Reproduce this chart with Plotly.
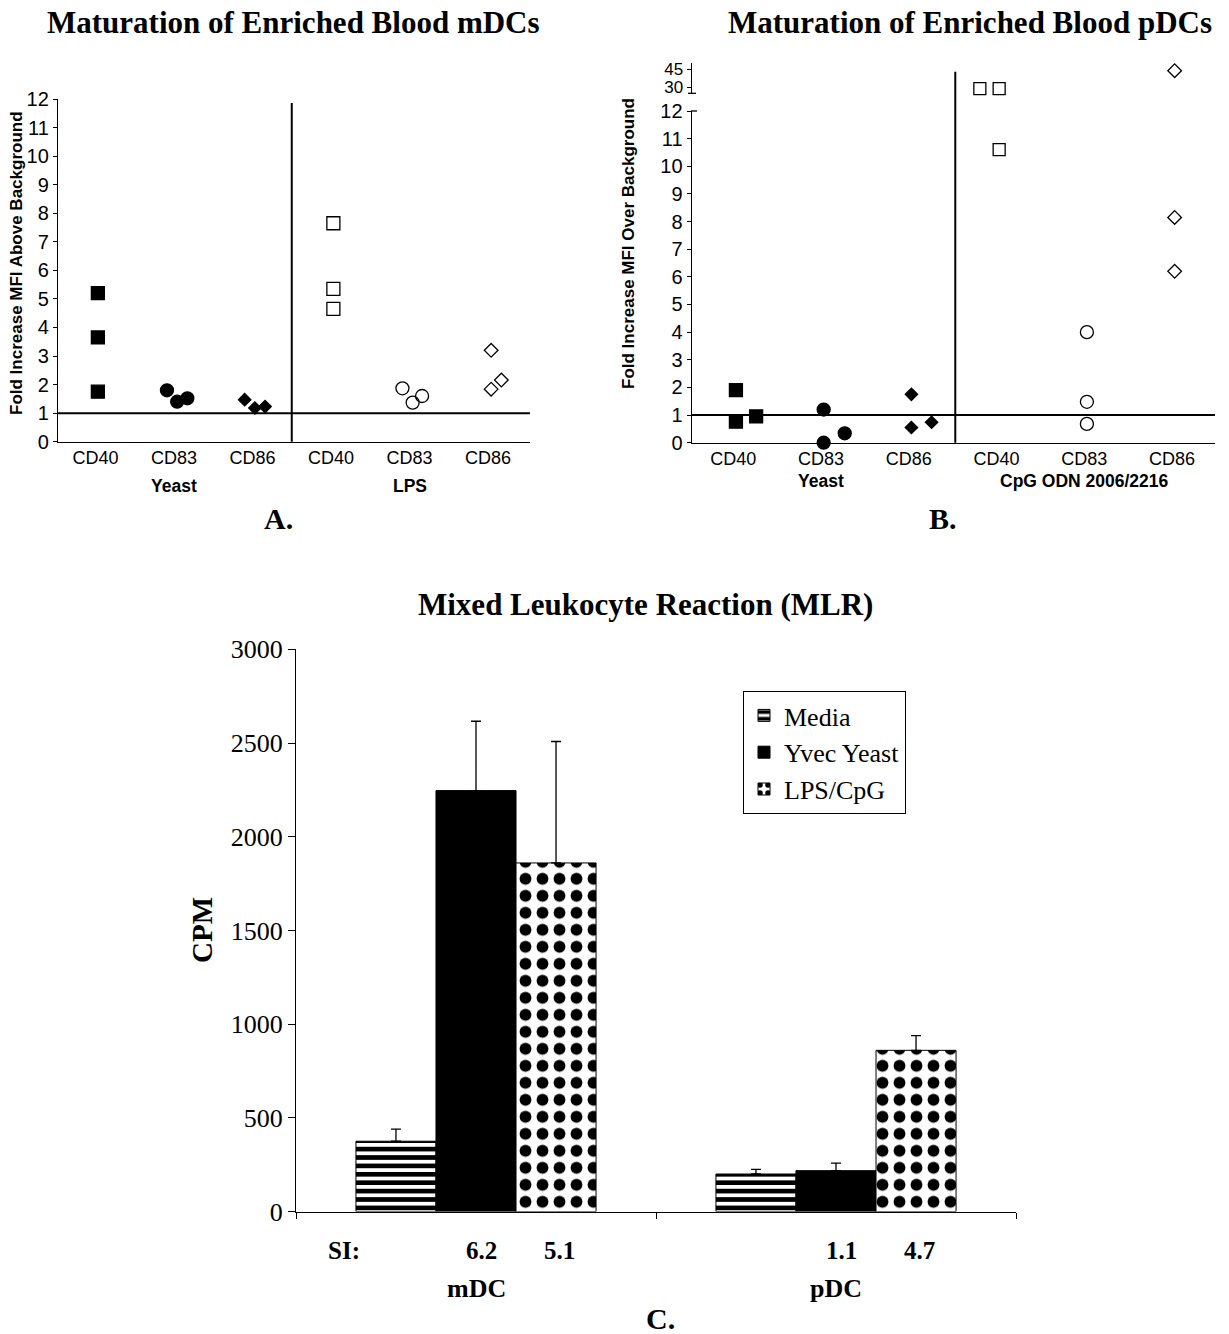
import plotly.graph_objects as go

W, H = 1229, 1334
SERIF = "Liberation Serif, Times New Roman, serif"
SANS = "Liberation Sans, Arial, sans-serif"

# ---------------- data ----------------
cat_labels = ["CD40", "CD83", "CD86", "CD40", "CD83", "CD86"]

# Panel A: mDCs (fold increase MFI above background)
a_yeast_cd40 = [5.2, 3.65, 1.75]
a_yeast_cd83 = [1.8, 1.4, 1.52]
a_yeast_cd86 = [1.47, 1.18, 1.23]
a_lps_cd40 = [7.65, 5.35, 4.65]
a_lps_cd83 = [1.87, 1.37, 1.6]
a_lps_cd86 = [3.2, 1.84, 2.16]

# Panel B: pDCs (fold increase MFI over background)
b_yeast_cd40 = [1.9, 0.76, 0.95]
b_yeast_cd83 = [1.2, 0.0, 0.34]
b_yeast_cd86 = [1.75, 0.55, 0.74]
b_cpg_cd40 = [29.0, 29.0, 10.6]
b_cpg_cd83 = [4.0, 1.48, 0.68]
b_cpg_cd86 = [43.8, 8.15, 6.2]
b_upper_ticks = [30, 45]

# Panel C: MLR
groups = ["mDC", "pDC"]
media = [375, 200]
media_err = [65, 25]
yvec = [2246, 218]
yvec_err = [370, 40]
lps_cpg = [1860, 860]
lps_cpg_err = [648, 78]
si_yvec = ["6.2", "1.1"]
si_lps = ["5.1", "4.7"]


def px(x):
    return x / W


def py(y):
    return 1 - y / H


fig = go.Figure()

# ---------- scatter panels ----------
def add_points(vals, cat, offs, symbol, size, xa, ya, ya_up=None, split=12):
    for v, o in zip(vals, offs):
        yax = ya
        if ya_up is not None and v > split:
            yax = ya_up
        fig.add_trace(go.Scatter(
            x=[cat + o], y=[v], xaxis=xa, yaxis=yax, mode="markers",
            marker=dict(symbol=symbol, size=size, color="black",
                        line=dict(color="black", width=1.3)),
            showlegend=False, cliponaxis=False, hoverinfo="skip"))


add_points(a_yeast_cd40, 0, [0.03, 0.03, 0.03], "square", 13, "x", "y")
add_points(a_yeast_cd83, 1, [-0.09, 0.04, 0.17], "circle", 13, "x", "y")
add_points(a_yeast_cd86, 2, [-0.1, 0.03, 0.16], "diamond", 9.5, "x", "y")
add_points(a_lps_cd40, 3, [0.03, 0.03, 0.03], "square-open", 13, "x", "y")
add_points(a_lps_cd83, 4, [-0.09, 0.04, 0.16], "circle-open", 13, "x", "y")
add_points(a_lps_cd86, 5, [0.04, 0.04, 0.17], "diamond-open", 10.5, "x", "y")

add_points(b_yeast_cd40, 0, [0.03, 0.03, 0.26], "square", 13, "x2", "y2", "y3")
add_points(b_yeast_cd83, 1, [0.03, 0.03, 0.27], "circle", 13, "x2", "y2", "y3")
add_points(b_yeast_cd86, 2, [0.03, 0.03, 0.26], "diamond", 9.5, "x2", "y2", "y3")
add_points(b_cpg_cd40, 3, [-0.19, 0.03, 0.03], "square-open", 12, "x2", "y2", "y3")
add_points(b_cpg_cd83, 4, [0.03, 0.03, 0.03], "circle-open", 13, "x2", "y2", "y3")
add_points(b_cpg_cd86, 5, [0.03, 0.03, 0.03], "diamond-open", 10.5, "x2", "y2", "y3")

# ---------- bar panel ----------
err = dict(type="data", symmetric=False, color="black", thickness=1.3, width=5)
fig.add_trace(go.Bar(
    x=[0, 1], y=media, name="Media", xaxis="x3", yaxis="y4",
    marker=dict(color="white", line=dict(color="black", width=1),
                pattern=dict(shape="-", fgcolor="black", bgcolor="white", fgopacity=1,
                             fillmode="replace", size=8.4, solidity=0.55)),
    error_y=dict(err, array=media_err, arrayminus=[0, 0])))
fig.add_trace(go.Bar(
    x=[0, 1], y=yvec, name="Yvec Yeast", xaxis="x3", yaxis="y4",
    marker=dict(color="black", line=dict(color="black", width=1)),
    error_y=dict(err, array=yvec_err, arrayminus=[0, 0])))
fig.add_trace(go.Bar(
    x=[0, 1], y=lps_cpg, name="LPS/CpG", xaxis="x3", yaxis="y4",
    marker=dict(color="white", line=dict(color="black", width=1),
                pattern=dict(shape=".", fgcolor="black", bgcolor="white", fgopacity=1,
                             fillmode="replace", size=17, solidity=0.38)),
    error_y=dict(err, array=lps_cpg_err, arrayminus=[0, 0])))

axis_common = dict(showgrid=False, zeroline=False, showline=True, linecolor="black",
                   linewidth=1.3, tickcolor="black", color="black", automargin=False)

fig.update_layout(
    template="none",
    width=W, height=H, margin=dict(l=0, r=0, t=0, b=0, pad=0, autoexpand=False),
    paper_bgcolor="white", plot_bgcolor="white",
    barmode="group", bargap=0.333, bargroupgap=0,
    xaxis=dict(axis_common, domain=[px(58), px(530)], range=[-0.478, 5.535], anchor="y",
               tickvals=list(range(6)), ticktext=cat_labels, ticks="",
               tickfont=dict(family=SANS, size=18, color="black")),
    yaxis=dict(axis_common, domain=[py(441.7), py(99)], range=[0, 12], anchor="x",
               dtick=1, ticks="outside", ticklen=4,
               tickfont=dict(family=SANS, size=20, color="black")),
    xaxis2=dict(axis_common, domain=[px(691.7), px(1215)], range=[-0.474, 5.49], anchor="y2",
                tickvals=list(range(6)), ticktext=cat_labels, ticks="",
                tickfont=dict(family=SANS, size=18, color="black")),
    yaxis2=dict(axis_common, domain=[py(442.7), py(111)], range=[0, 12], anchor="x2",
                dtick=1, ticks="outside", ticklen=4,
                tickfont=dict(family=SANS, size=20, color="black")),
    yaxis3=dict(axis_common, domain=[py(93.3), py(62.7)], range=[25.2, 50.4], anchor="x2",
                tickvals=b_upper_ticks, ticks="outside", ticklen=4,
                tickfont=dict(family=SANS, size=17, color="black")),
    xaxis3=dict(axis_common, domain=[px(296), px(1016)], range=[-0.5, 1.5], anchor="y4",
                tickvals=[-0.5, 0.5, 1.5], ticktext=["", "", ""], ticks="outside", ticklen=6),
    yaxis4=dict(axis_common, domain=[py(1211.5), py(649.3)], range=[0, 3000], anchor="x3",
                dtick=500, ticks="outside", ticklen=7,
                tickfont=dict(family=SERIF, size=26, color="black")),
    legend=dict(x=px(743), y=py(691), xanchor="left", yanchor="top",
                bordercolor="black", borderwidth=1, bgcolor="white",
                font=dict(family=SERIF, size=26, color="black"),
                traceorder="normal"),
)

# ---------- reference lines / separators ----------
shapes = [
    dict(type="line", xref="x domain", yref="y", x0=0, x1=1, y0=1, y1=1,
         line=dict(color="black", width=2)),
    dict(type="line", xref="x", yref="paper", x0=2.5, x1=2.5, y0=py(441.7), y1=py(103),
         line=dict(color="black", width=2)),
    dict(type="line", xref="x2 domain", yref="y2", x0=0, x1=1, y0=1, y1=1,
         line=dict(color="black", width=2)),
    dict(type="line", xref="x2", yref="paper", x0=2.53, x1=2.53, y0=py(442.7), y1=py(71.7),
         line=dict(color="black", width=2)),
    # axis break marks
    dict(type="line", xref="paper", yref="paper", x0=px(688), x1=px(696), y0=py(93.3), y1=py(93.3),
         line=dict(color="black", width=1.3)),
    dict(type="line", xref="paper", yref="paper", x0=px(691), x1=px(697), y0=py(111), y1=py(111),
         line=dict(color="black", width=1.3)),
]
fig.update_layout(shapes=shapes)


def ann(text, x, y, size, family, bold=False, xref="paper", angle=0, xanchor="center"):
    return dict(text=f"<b>{text}</b>" if bold else text,
                x=px(x) if xref == "paper" else x, y=py(y), xref=xref, yref="paper",
                showarrow=False, textangle=angle, xanchor=xanchor, yanchor="middle",
                font=dict(family=family, size=size, color="black"))


annotations = [
    ann("Maturation of Enriched Blood mDCs", 293, 22, 31, SERIF, True),
    ann("Maturation of Enriched Blood pDCs", 970, 22, 31, SERIF, True),
    ann("Mixed Leukocyte Reaction (MLR)", 645, 604, 31, SERIF, True),
    ann("A.", 278, 518, 30, SERIF, True),
    ann("B.", 943, 518, 30, SERIF, True),
    ann("C.", 660, 1318, 30, SERIF, True),
    ann("Fold Increase MFI Above Background", 17, 263, 17, SANS, True, angle=-90),
    ann("Fold Increase MFI Over Background", 628, 244, 17, SANS, True, angle=-90),
    ann("Yeast", 1, 486, 17.5, SANS, True, xref="x"),
    ann("LPS", 4, 486, 17.5, SANS, True, xref="x"),
    ann("Yeast", 1, 481, 17.5, SANS, True, xref="x2"),
    ann("CpG ODN 2006/2216", 4, 481, 17.5, SANS, True, xref="x2"),
    ann("CPM", 202, 930, 29, SERIF, True, angle=-90),
    ann("SI:", 344, 1250, 25, SERIF, True),
]
bar_w = (1 - 0.333) / 3
for i, g in enumerate(groups):
    annotations.append(ann(g, i, 1288, 26, SERIF, True, xref="x3"))
    annotations.append(ann(si_yvec[i], i + 0.015, 1250, 25, SERIF, True, xref="x3"))
    annotations.append(ann(si_lps[i], i + bar_w + 0.01, 1250, 25, SERIF, True, xref="x3"))

fig.update_layout(annotations=annotations)

fig.write_html("out.html")
